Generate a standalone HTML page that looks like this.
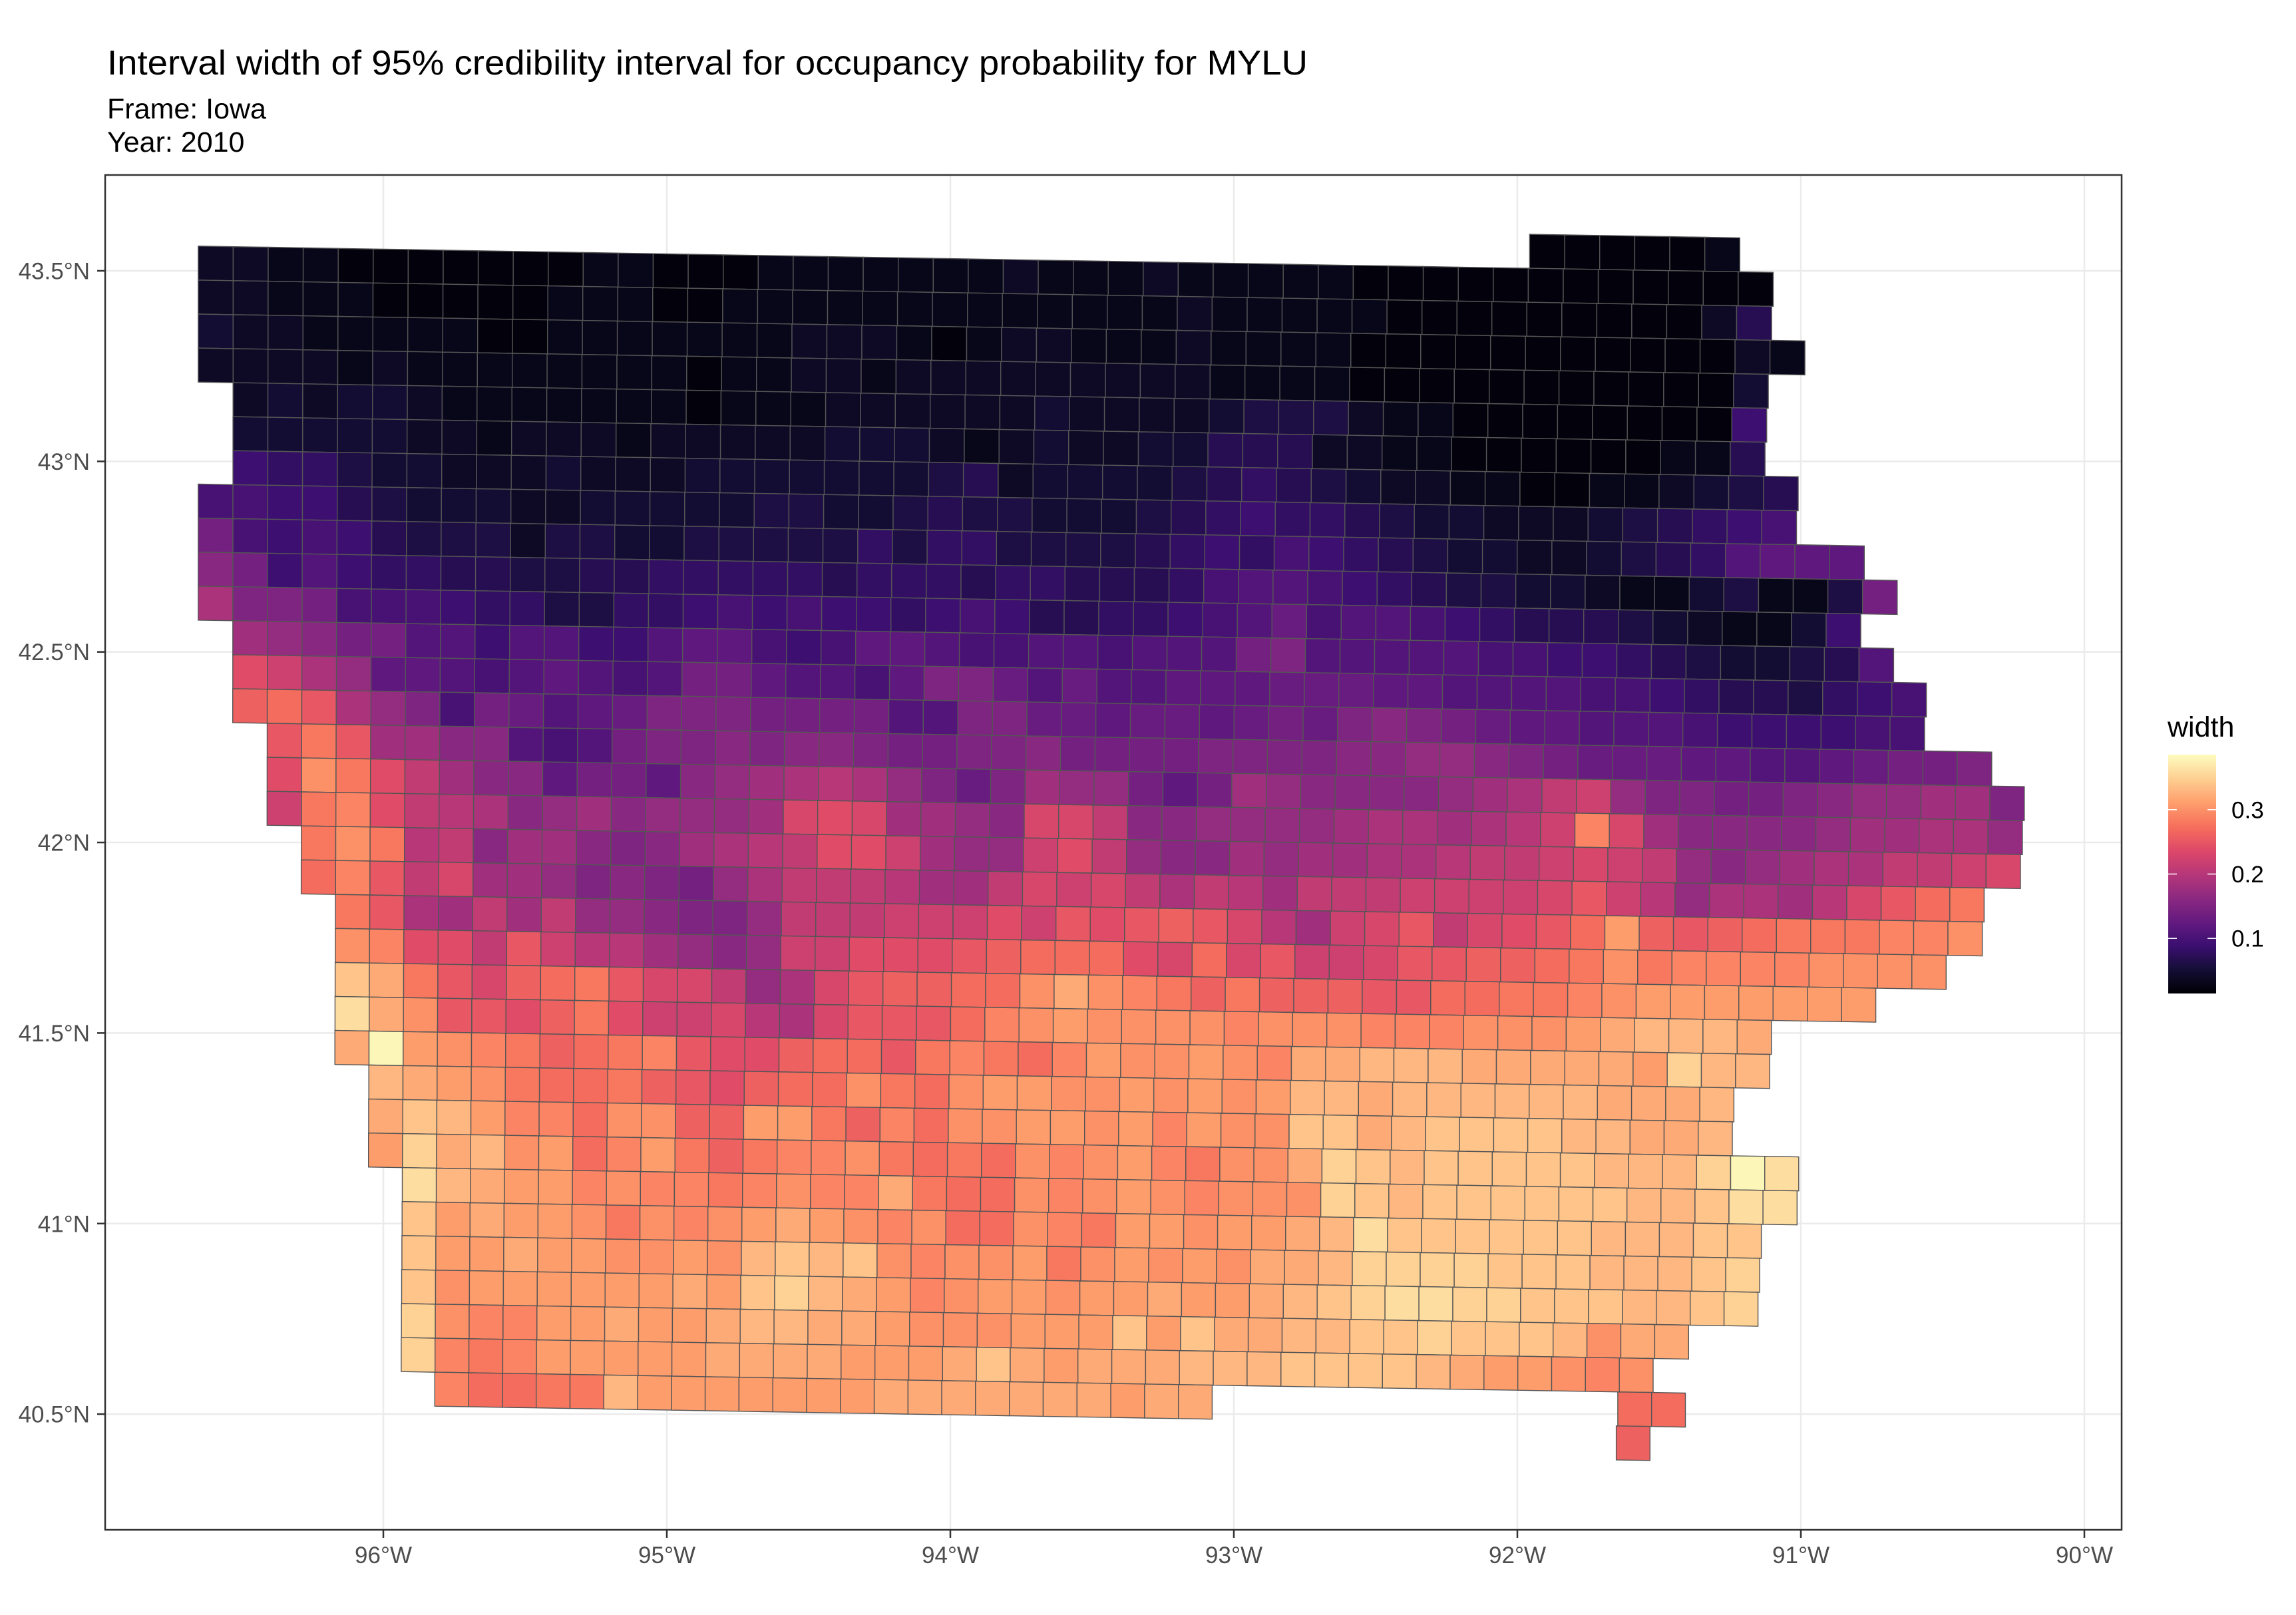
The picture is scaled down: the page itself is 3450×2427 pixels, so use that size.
<!DOCTYPE html>
<html>
<head>
<meta charset="utf-8">
<style>
  html, body { margin: 0; padding: 0; background: #ffffff; }
  svg { display: block; font-family: "Liberation Sans", Arial, sans-serif; }
</style>
</head>
<body>
<svg id="chart" xmlns="http://www.w3.org/2000/svg" width="3450" height="2427" viewBox="0 0 3450 2427">
  <rect x="0" y="0" width="3450" height="2427" fill="#ffffff"/>
  <text x="161" y="112" font-size="52" fill="#000" textLength="1804" lengthAdjust="spacingAndGlyphs">Interval width of 95% credibility interval for occupancy probability for MYLU</text>
  <text x="161" y="178" font-size="43" fill="#000">Frame: Iowa</text>
  <text x="161" y="228" font-size="43" fill="#000">Year: 2010</text>
  <g id="grid"></g>
  <g id="cells"></g>
  <rect x="158" y="263" width="3030" height="2036" fill="none" stroke="#333333" stroke-width="2.5"/>
  <g id="axes"></g>
  <g id="legend"></g>
</svg>
<script>
// ---- chart data ----
const xTicks = [-96, -95, -94, -93, -92, -91, -90];
const xTickLabels = ["96°W", "95°W", "94°W", "93°W", "92°W", "91°W", "90°W"];
const yTicks = [40.5, 41, 41.5, 42, 42.5, 43, 43.5];
const yTickLabels = ["40.5°N", "41°N", "41.5°N", "42°N", "42.5°N", "43°N", "43.5°N"];
const legendTicks = [0.1, 0.2, 0.3];
const legendTickLabels = ["0.1", "0.2", "0.3"];
// value code: '0'..'9' -> 0.02..0.11, 'a'..'z' -> 0.12..0.37, 'A' -> 0.38
const valueCodes = "0123456789abcdefghijklmnopqrstuvwxyzA";
// grid segments: row index, starting column, coded cell values
const segRows = [-1,0,1,2,3,4,5,6,7,8,9,10,11,12,13,14,15,16,17,18,19,20,21,22,23,24,25,26,27,28,29,30,31,32,33,33,34];
const segStartCols = [38,0,0,0,0,1,1,1,0,0,0,0,1,1,1,2,2,2,3,3,4,4,4,4,4,5,5,5,6,6,6,6,6,6,7,42,42];
const segCodes = [
  "000001",
  "22110 00000 01100 01111 11121 1" + "12111 11000 00000 0000",
  "22111 00000 11100 11111 11111 1" + "11211 11100 00000 0025",
  "32211 11100 11111 11222 10122 1" + "11211 11000 00000 00021",
  "22221 21111 11110 11221 22222 2" + "22211 11000 00000 0003",
  "23233 21111 11101 11222 22232" + "22234 44211 00000 0007",
  "33333 22122 21222 22333 21232" + "23355 52211 00000 0115",
  "76643 32223 22233 33333 45233" + "33456 54322 11001 12345",
  "88775 43332 23333 34433 45443 3" + "34567 66543 32223 45678",
  "c8787 54442 44334 44446 46644 4" + "45676 87654 33223 4569a aa",
  "ec797 66554 45566 66656 66566 5" + "55689 98765 44332 11341 14c",
  "hddc8 88766 44667 87877 67875 5" + "66789 b8998 76555 43211 37",
  "gfecc 99799 779aa 878aa 98899" + "8999c d9999 98877 65433 459",
  "mkhfa a989a 989cc a998a ddb9b" + "99aaa bbbaa 99998 87655 4678",
  "opnhf d8cb9 abddd cccc9 9ddbb" + "abbab cbded cbaa9 99877 7788",
  "nqngg ee989 cdded eedcc ddec" + "cccdd ddeef fedcb bbaa9 9abcc d",
  "msqmj geeac caefg hihfd bdgf" + "fcacg feeee fghjk fddcc deffg gd",
  "kqrmj ihefg efffg lmlgg fell" + "jeeff ffghh ghikr lgeee efggh hf",
  "qsqij egged eghij mmkgf fkm" + "jfeeg fgghh ijjkl kjfef ghhjj kl",
  "prnjl ggfde dcfhj jjigg jlk" + "ljhji gjjjk kkkln kifhh gilnp q",
  "qnhgj gjffe ddfjj jkkkm kn" + "mnonl igkln jlmnp tonop qqqrr s",
  "srmmj nkiig fefkk mmmno pp" + "pmlpl nkkln noopq sqrrr rssss",
  "wuqnl opqnl ljfhl noopp su" + "srqoq ooonn ppqqr stttt ttt",
  "yusnn moqmk klihl nnnpr st" + "ssssr sssrr rssst uvvvu",
  "uAtsr qopqr nmmop pnqrq pr" + "tssts ruuvv vuuuu utxvv",
  "vutsq ppqon mopps qpstt s" + "ststs tvvuv vvvvv uuuv",
  "uwvtr rpsso ottqo rpsst t" + "strts swwuv wwwwv vuuv",
  "txuvs tprtq oqrrs qpqps r" + "strqs suxwv wwwww vvvxA y",
  "yvutt rsrrq rsrru qppsr" + "stsrs ssxwv wwwww wvvwy y",
  "wtutt sqsrs tutsr sppsr" + "qttst tuvyw wwwww vvvww",
  "wttut tssts vwvws rsstq" + "ststs uuvxx xxwww vvvwx",
  "wsttt tttut wxvut rstts" + "ttutt uvwxy yxxww wvvwx",
  "xsrrt tuttu vvuut ssstt" + "twtwu uvvww xwwwv suu",
  "xrqrt ttttu uuutt tuwut" + "uuuvv vwwww vutts rs",
  "rppqq vtttt tttuu uuuuu tuu",
  "pp",
  "o"
];
const magmaStops = ["#000004","#140e36","#3b0f70","#641a80","#8c2981","#b73779","#de4968","#f7705c","#fe9f6d","#fecf92","#fcfdbf"];
const colorMin = 0.0144, colorMax = 0.3856;

// ---- geometry / scales ----
const NS = "http://www.w3.org/2000/svg";
const lon0 = -96.653, lat0 = 43.565, dLat = 0.08923, shear = 0.01242;
// cell width (degrees longitude) narrows linearly from north to south
const cellWNorth = 24.05 / 194.6, cellWSouth = 23.2 / 194.6;
function cellDLon(r) {
  const f = (r + 1) / 34;
  return cellWNorth + (cellWSouth - cellWNorth) * f;
}
function xScale(lon) { return 576 + (lon + 96) * 426.0; }
function yScale(lat) { return 407 + (43.5 - lat) * 572.7; }
const panel = { x0: 158, x1: 3188, y0: 263, y1: 2299 };
const leg = { x: 3258, w: 72, y0: 1134, y1: 1493 };
function legY(v) { return leg.y1 - (v - colorMin) / (colorMax - colorMin) * (leg.y1 - leg.y0); }

function hex2rgb(h) { return [parseInt(h.substr(1,2),16), parseInt(h.substr(3,2),16), parseInt(h.substr(5,2),16)]; }
function magma(t) {
  t = Math.max(0, Math.min(1, t));
  const p = t * (magmaStops.length - 1);
  const i = Math.min(Math.floor(p), magmaStops.length - 2);
  const f = p - i;
  const a = hex2rgb(magmaStops[i]), b = hex2rgb(magmaStops[i + 1]);
  return "rgb(" + a.map((v, k) => Math.round(v + (b[k] - v) * f)).join(",") + ")";
}
function codeValue(ch) { return 0.02 + 0.01 * valueCodes.indexOf(ch); }

// gridlines
const gridG = document.getElementById("grid");
xTicks.forEach(function (t) {
  const l = document.createElementNS(NS, "line");
  
  
  l.setAttribute("x1", xScale(t)); l.setAttribute("x2", xScale(t));
  l.setAttribute("y1", panel.y0); l.setAttribute("y2", panel.y1);
  l.setAttribute("stroke", "#ebebeb"); l.setAttribute("stroke-width", "2.5");
  gridG.appendChild(l);
});
yTicks.forEach(function (t) {
  const l = document.createElementNS(NS, "line");
  
  
  l.setAttribute("x1", panel.x0); l.setAttribute("x2", panel.x1);
  l.setAttribute("y1", yScale(t)); l.setAttribute("y2", yScale(t));
  l.setAttribute("stroke", "#ebebeb"); l.setAttribute("stroke-width", "2.5");
  gridG.appendChild(l);
});

// cells
const cellG = document.getElementById("cells");
function topLat(r, lon) { return lat0 - r * dLat - shear * (lon - lon0); }
segCodes.forEach(function (codes, s) {
  const str = codes.replace(/\s+/g, "");
  const r = segRows[s];
  const dLon = cellDLon(r);
  for (let k = 0; k < str.length; k++) {
    const c = segStartCols[s] + k;
    const v = codeValue(str[k]);
    const lonL = lon0 + c * dLon, lonR = lonL + dLon;
    const pts = [
      [xScale(lonL), yScale(topLat(r, lonL))],
      [xScale(lonR), yScale(topLat(r, lonR))],
      [xScale(lonR), yScale(topLat(r, lonR) - dLat)],
      [xScale(lonL), yScale(topLat(r, lonL) - dLat)]
    ];
    const p = document.createElementNS(NS, "polygon");
    
    
    p.setAttribute("points", pts.map(q => q[0].toFixed(1) + "," + q[1].toFixed(1)).join(" "));
    p.setAttribute("fill", magma((v - colorMin) / (colorMax - colorMin)));
    p.setAttribute("stroke", "#555555");
    p.setAttribute("stroke-width", "1.4");
    cellG.appendChild(p);
  }
});

// axes
const axG = document.getElementById("axes");
xTicks.forEach(function (t, i) {
  const x = xScale(t);
  const l = document.createElementNS(NS, "line");
  
  
  l.setAttribute("x1", x); l.setAttribute("x2", x);
  l.setAttribute("y1", panel.y1); l.setAttribute("y2", panel.y1 + 12);
  l.setAttribute("stroke", "#333333"); l.setAttribute("stroke-width", "2.5");
  axG.appendChild(l);
  const tx = document.createElementNS(NS, "text");
  
  
  tx.setAttribute("x", x); tx.setAttribute("y", 2349);
  tx.setAttribute("text-anchor", "middle"); tx.setAttribute("font-size", "35");
  tx.setAttribute("fill", "#4d4d4d");
  tx.textContent = xTickLabels[i];
  axG.appendChild(tx);
});
yTicks.forEach(function (t, i) {
  const y = yScale(t);
  const l = document.createElementNS(NS, "line");
  
  
  l.setAttribute("x1", panel.x0 - 12); l.setAttribute("x2", panel.x0);
  l.setAttribute("y1", y); l.setAttribute("y2", y);
  l.setAttribute("stroke", "#333333"); l.setAttribute("stroke-width", "2.5");
  axG.appendChild(l);
  const tx = document.createElementNS(NS, "text");
  
  
  tx.setAttribute("x", 135); tx.setAttribute("y", y + 12.5);
  tx.setAttribute("text-anchor", "end"); tx.setAttribute("font-size", "35");
  tx.setAttribute("fill", "#4d4d4d");
  tx.textContent = yTickLabels[i];
  axG.appendChild(tx);
});

// legend
const lg = document.getElementById("legend");
const defs = document.createElementNS(NS, "defs");
const grad = document.createElementNS(NS, "linearGradient");
grad.setAttribute("id", "magmaGrad");
grad.setAttribute("x1", "0"); grad.setAttribute("y1", "1"); grad.setAttribute("x2", "0"); grad.setAttribute("y2", "0");
magmaStops.forEach(function (c, i) {
  const st = document.createElementNS(NS, "stop");
  st.setAttribute("offset", (i / (magmaStops.length - 1)).toFixed(3));
  st.setAttribute("stop-color", c);
  grad.appendChild(st);
});
defs.appendChild(grad);
lg.appendChild(defs);
const lt = document.createElementNS(NS, "text");


lt.setAttribute("x", 3257); lt.setAttribute("y", 1107); lt.setAttribute("font-size", "43"); lt.setAttribute("fill", "#000");
lt.textContent = "width";
lg.appendChild(lt);
const bar = document.createElementNS(NS, "rect");


bar.setAttribute("x", leg.x); bar.setAttribute("y", leg.y0);
bar.setAttribute("width", leg.w); bar.setAttribute("height", leg.y1 - leg.y0);
bar.setAttribute("fill", "url(#magmaGrad)");
lg.appendChild(bar);
legendTicks.forEach(function (v, i) {
  const y = legY(v);
  [[leg.x, leg.x + 13], [leg.x + leg.w - 13, leg.x + leg.w]].forEach(function (seg) {
    const l = document.createElementNS(NS, "line");
    
    
    l.setAttribute("x1", seg[0]); l.setAttribute("x2", seg[1]);
    l.setAttribute("y1", y); l.setAttribute("y2", y);
    l.setAttribute("stroke", "#ffffff"); l.setAttribute("stroke-width", "1.5");
    lg.appendChild(l);
  });
  const tx = document.createElementNS(NS, "text");
  
  
  tx.setAttribute("x", 3353); tx.setAttribute("y", y + 12.5);
  tx.setAttribute("font-size", "35"); tx.setAttribute("fill", "#000");
  tx.textContent = legendTickLabels[i];
  lg.appendChild(tx);
});
</script>
</body>
</html>
